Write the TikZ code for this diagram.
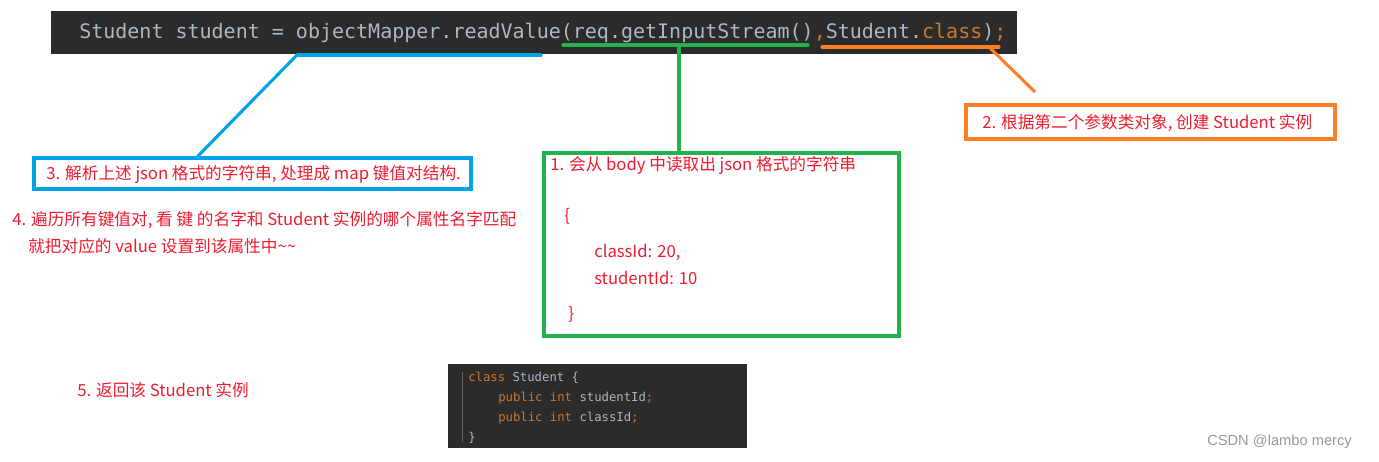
\documentclass[tikz,border=0pt]{standalone}
\usepackage{fontspec}
\setmainfont{Noto Sans CJK SC}
\newfontfamily\codefont{DejaVu Sans Mono}
\newfontfamily\markfont{Liberation Sans}
\usepackage{tikz}
\definecolor{codebg}{HTML}{2B2B2B}
\definecolor{codefg}{HTML}{A9B7C6}
\definecolor{codekw}{HTML}{CC7832}
\definecolor{noteblue}{HTML}{00A2E8}
\definecolor{notegreen}{HTML}{22B14C}
\definecolor{noteorange}{HTML}{FF7F27}
\definecolor{notered}{HTML}{EE1C30}
\tikzset{
    notetext/.style = {
        anchor=west,
        inner sep=0pt,
        text=notered,
        font=\fontsize{12.5}{15}\selectfont
    },
    notebox/.style = {
        rectangle,
        line width=3pt,
        inner sep=0pt
    },
    codeline/.style = {
        anchor=west,
        inner sep=0pt,
        text=codefg,
        font=\codefont\fontsize{15}{18}\selectfont
    },
    smallcode/.style = {
        anchor=west,
        inner sep=0pt,
        text=codefg,
        font=\codefont\fontsize{9.2}{11}\selectfont
    },
    marker/.style = {
        line width=2.3pt
    }
}

\begin{document}
\begin{tikzpicture}[x=0.75pt,y=-0.75pt]
    \useasboundingbox[fill=white] (0,0) rectangle (1379,461);
    % code line on top
    \fill[codebg] (51,11) rectangle (1017,54);
    \node [codeline] (code) at (79,33)
        {Student student = objectMapper.readValue(req.getInputStream()\textcolor{codekw}{,}Student.\textcolor{codekw}{class})\textcolor{codekw}{;}};
    % underlines
    \coordinate (blueL) at (297,55);
    \coordinate (blueR) at (541,55);
    \coordinate (greenL) at (563,45);
    \coordinate (greenR) at (808,45);
    \coordinate (greenM) at (679,45);
    \coordinate (orangeL) at (822,47);
    \coordinate (orangeR) at (999,47);
    \coordinate (orangeM) at (990,48);
    \draw [marker, noteblue, line cap=round] (blueL) -- (blueR);
    \draw [marker, notegreen, line cap=round] (greenL) -- (greenR);
    \draw [marker, noteorange, line cap=round] (orangeL) -- (orangeR);
    % boxes
    \node [notebox, draw=noteorange, minimum width=276.75pt, minimum height=25.5pt] (create) at (1150.5,122) {};
    \node [notetext] at (982,123) {2. 根据第二个参数类对象, 创建 Student 实例};
    \node [notebox, draw=noteblue, minimum width=327.75pt, minimum height=23.25pt] (parse) at (252.5,173.5) {};
    \node [notetext] at (46,174) {3. 解析上述 json 格式的字符串, 处理成 map 键值对结构.};
    \node [notebox, draw=notegreen, minimum width=266.25pt, minimum height=137.25pt] (read) at (721.5,244.5) {};
    \coordinate (parseTop) at (196,158);
    \coordinate (readTop) at (679,153);
    \coordinate (createTop) at (1035,92);
    % connectors
    \draw [marker, noteblue] (blueL) -- (parseTop);
    \draw [marker, notegreen] (greenM) -- (readTop);
    \draw [marker, noteorange] (orangeM) -- (createTop);
    % texts in the green box
    \node [notetext] (json) at (550,165) {1. 会从 body 中读取出 json 格式的字符串};
    \node [notetext] (lbrace) at (564,216) {\{};
    \node [notetext] (cid) at (594,252) {classId: 20,};
    \node [notetext] (sid) at (594,278) {studentId: 10};
    \node [notetext] (rbrace) at (568,314) {\}};
    % step 4 and 5
    \node [notetext] (walk) at (12,220) {4. 遍历所有键值对, 看 键 的名字和 Student 实例的哪个属性名字匹配};
    \node [notetext] (walk2) at (28,246) {就把对应的 value 设置到该属性中\textasciitilde\textasciitilde};
    \node [notetext] (back) at (77,390) {5. 返回该 Student 实例};
    % class snippet
    \fill[codebg] (448,364) rectangle (747,448);
    \draw[gray!60!codebg] (462,372) -- (462,442);
    \node [smallcode] (c1) at (468,378) {\textcolor{codekw}{class} Student \{};
    \node [smallcode] (c2) at (498,398) {\textcolor{codekw}{public int} studentId\textcolor{codekw}{;}};
    \node [smallcode] (c3) at (498,418) {\textcolor{codekw}{public int} classId\textcolor{codekw}{;}};
    \node [smallcode] (c4) at (468,438) {\}};
    % watermark
    \node [anchor=west, inner sep=0pt, text=gray!80, font=\markfont\fontsize{11}{13}\selectfont] (mark) at (1207,442) {CSDN @lambo mercy};
\end{tikzpicture}
\end{document}
